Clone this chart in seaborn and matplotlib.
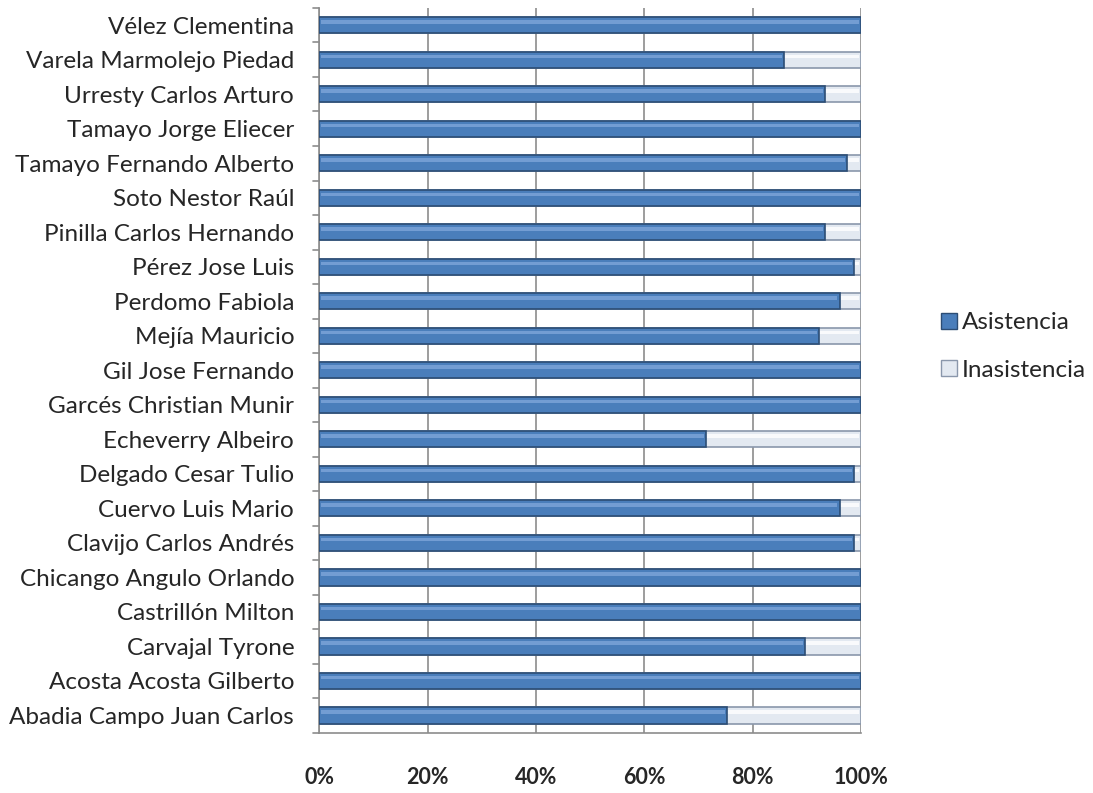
import matplotlib
matplotlib.use('Agg')
import matplotlib.pyplot as plt
import matplotlib.patches as mpatches
import seaborn as sns
import pandas as pd
import numpy as np

# data (percent of sessions)
names = [
    'Vélez Clementina', 'Varela Marmolejo Piedad', 'Urresty Carlos Arturo',
    'Tamayo Jorge Eliecer', 'Tamayo Fernando Alberto', 'Soto Nestor Raúl',
    'Pinilla Carlos Hernando', 'Pérez Jose Luis', 'Perdomo Fabiola',
    'Mejía Mauricio', 'Gil Jose Fernando', 'Garcés Christian Munir',
    'Echeverry Albeiro', 'Delgado Cesar Tulio', 'Cuervo Luis Mario',
    'Clavijo Carlos Andrés', 'Chicango Angulo Orlando', 'Castrillón Milton',
    'Carvajal Tyrone', 'Acosta Acosta Gilberto', 'Abadia Campo Juan Carlos',
]
asistencia = [100, 85.7, 93.3, 100, 97.4, 100, 93.3, 98.7, 96.0, 92.2, 100,
              100, 71.3, 98.7, 96.0, 98.7, 100, 100, 89.6, 100, 75.2]
inasistencia = [100 - a for a in asistencia]
ticks = [0, 20, 40, 60, 80, 100]

df = pd.DataFrame({'nombre': names, 'asis': asistencia, 'inas': inasistencia})
df['total'] = df['asis'] + df['inas']

sns.set_theme(style='white')
plt.rcParams['font.family'] = ['Lato', 'DejaVu Sans']

C_AS = '#4a7ebb'
C_AS_EDGE = '#2c4d75'
C_IN = '#e3e9f1'
C_IN_EDGE = '#8a97ab'

fig = plt.figure(figsize=(10.93, 7.93), dpi=100)
ax = fig.add_axes([0.292, 0.076, 0.496, 0.914])

# grid behind bars
for t in ticks:
    ax.axvline(t, color='#8c8c8c', lw=1.2, zorder=0)

sns.barplot(data=df, y='nombre', x='total', orient='h', color=C_IN,
            edgecolor=C_IN_EDGE, linewidth=1.2, width=0.47, saturation=1,
            ax=ax, zorder=2)
sns.barplot(data=df, y='nombre', x='asis', orient='h', color=C_AS,
            edgecolor=C_AS_EDGE, linewidth=1.2, width=0.47, saturation=1,
            ax=ax, zorder=3)

# light highlight strip to suggest the bevel look
n_in = len(names)
for i, p in enumerate(ax.patches):
    x0, y0, w, h = p.get_x(), p.get_y(), p.get_width(), p.get_height()
    if w <= 0:
        continue
    hl = '#ffffff' if i < n_in else '#7ea6da'
    ax.add_patch(mpatches.Rectangle((x0 + 0.4, y0 + h * 0.18), max(w - 0.8, 0),
                                    h * 0.22, color=hl, lw=0, alpha=0.8,
                                    zorder=p.get_zorder() + 0.1))

ax.set_xlim(0, 100)
ax.set_ylim(len(names) - 0.5, -0.5)
ax.set_xticks(ticks)
ax.set_xticklabels([f'{t}%' for t in ticks], fontsize=15.5, fontweight='bold')
ax.set_yticks(np.arange(len(names)))
ax.set_yticklabels(names, fontsize=17.5)
ax.tick_params(axis='y', length=0, pad=18)
ax.tick_params(axis='x', length=6, width=1.2, color='#8c8c8c', pad=19,
               direction='out')
# category separator ticks on the value axis
for yb in np.arange(-0.5, len(names), 1):
    ax.plot([-1.2, 0], [yb, yb], color='#8c8c8c', lw=1.2, clip_on=False, zorder=1)
ax.set_xlabel('')
ax.set_ylabel('')
for s in ['top', 'right']:
    ax.spines[s].set_visible(False)
for s in ['left', 'bottom']:
    ax.spines[s].set_color('#8c8c8c')
    ax.spines[s].set_linewidth(1.2)

h1 = mpatches.Patch(facecolor=C_AS, edgecolor=C_AS_EDGE, label='Asistencia')
h2 = mpatches.Patch(facecolor=C_IN, edgecolor=C_IN_EDGE, label='Inasistencia')
fig.legend(handles=[h1, h2], loc='center left', bbox_to_anchor=(0.861, 0.563),
           frameon=False, fontsize=17.5, handlelength=0.65, handleheight=0.65,
           handletextpad=0.2, labelspacing=1.1, borderpad=0, borderaxespad=0)

fig.savefig('out.png', dpi=100)
